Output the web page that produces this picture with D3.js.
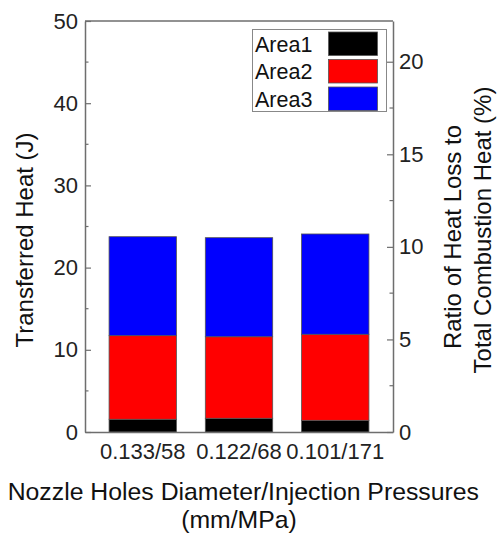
<!DOCTYPE html>
<html><head><meta charset="utf-8">
<script src="https://cdn.jsdelivr.net/npm/d3@7"></script>
<style>
body{margin:0;background:#fff;}
svg{display:block;font-family:"Liberation Sans",Arial,sans-serif;}
</style></head>
<body>
<svg id="chart" width="498" height="535"></svg>
<script>
const categories = ["0.133/58", "0.122/68", "0.101/171"];
const seriesNames = ["Area1", "Area2", "Area3"];
const area1 = [1.55, 1.67, 1.42];
const area2 = [10.17, 9.92, 10.47];
const area3 = [12.04, 12.05, 12.2];
const leftTicks = [0, 10, 20, 30, 40, 50];
const leftMinor = [5, 15, 25, 35, 45];
const rightTicks = [0, 5, 10, 15, 20];
const rightMinor = [2.5, 7.5, 12.5, 17.5];
const colors = ["#000000", "#ff0000", "#0000ff"];

const svg = d3.select("#chart");
const L = 85, R = 393, T = 21, B = 432;
const axisColor = "#6e6e6e";

const rows = categories.map((c, i) => ({cat: c, Area1: area1[i], Area2: area2[i], Area3: area3[i]}));
const stacked = d3.stack().keys(seriesNames)(rows);

const x = d3.scaleBand().domain(categories).range([L, R]).paddingInner(0.3).paddingOuter(0.25);
const y = d3.scaleLinear().domain([0, 50]).range([B, T]);
const y2 = d3.scaleLinear().domain([0, 22.2]).range([B, T]);

// bars
stacked.forEach((s, k) => {
  svg.append("g").selectAll("rect").data(s).join("rect")
    .attr("x", d => x(d.data.cat))
    .attr("width", x.bandwidth())
    .attr("y", d => y(d[1]))
    .attr("height", d => y(d[0]) - y(d[1]))
    .attr("fill", colors[k])
    .attr("stroke", "#555")
    .attr("stroke-width", 0.8);
});

// frame top
svg.append("line").attr("x1", L).attr("x2", R).attr("y1", T).attr("y2", T)
  .attr("stroke", axisColor).attr("stroke-width", 1.5);

// left axis
const gl = svg.append("g").attr("transform", `translate(${L},0)`)
  .call(d3.axisLeft(y).tickValues(leftTicks).tickSizeInner(-6).tickSizeOuter(0).tickPadding(7));
gl.selectAll(".tick line").attr("stroke", axisColor).attr("stroke-width", 1.2);
gl.select(".domain").attr("stroke", axisColor).attr("stroke-width", 1.5);
gl.selectAll("text").attr("font-size", 22).attr("fill", "#222");
svg.append("g").selectAll("line").data(leftMinor).join("line")
  .attr("x1", L).attr("x2", L + 3.5).attr("y1", d => y(d)).attr("y2", d => y(d))
  .attr("stroke", axisColor).attr("stroke-width", 1.2);

// right axis
const gr = svg.append("g").attr("transform", `translate(${R},0)`)
  .call(d3.axisRight(y2).tickValues(rightTicks).tickSizeInner(-6).tickSizeOuter(0).tickPadding(6));
gr.selectAll(".tick line").attr("stroke", axisColor).attr("stroke-width", 1.2);
gr.select(".domain").attr("stroke", axisColor).attr("stroke-width", 1.5);
gr.selectAll("text").attr("font-size", 22).attr("fill", "#222");
svg.append("g").selectAll("line").data(rightMinor).join("line")
  .attr("x1", R).attr("x2", R - 3.5).attr("y1", d => y2(d)).attr("y2", d => y2(d))
  .attr("stroke", axisColor).attr("stroke-width", 1.2);

// bottom axis
const gb = svg.append("g").attr("transform", `translate(0,${B})`)
  .call(d3.axisBottom(x).tickSize(0).tickPadding(11));
gb.select(".domain").attr("stroke", axisColor).attr("stroke-width", 1.5);
gb.selectAll("text").attr("font-size", 22).attr("fill", "#222");

// axis titles
svg.append("text").attr("transform", "translate(33,240) rotate(-90)")
  .attr("text-anchor", "middle").attr("font-size", 24).attr("fill", "#111")
  .text("Transferred Heat (J)");
svg.append("text").attr("transform", "translate(461,237) rotate(-90)")
  .attr("text-anchor", "middle").attr("font-size", 24).attr("fill", "#111")
  .text("Ratio of Heat Loss to");
svg.append("text").attr("transform", "translate(491,230) rotate(-90)")
  .attr("text-anchor", "middle").attr("font-size", 24).attr("fill", "#111")
  .text("Total Combustion Heat (%)");
svg.append("text").attr("x", 479).attr("y", 500).attr("text-anchor", "end")
  .attr("font-size", 24.8).attr("fill", "#111")
  .text("Nozzle Holes Diameter/Injection Pressures");
svg.append("text").attr("x", 239).attr("y", 528).attr("text-anchor", "middle")
  .attr("font-size", 24.8).attr("fill", "#111")
  .text("(mm/MPa)");

// legend
const lg = svg.append("g");
lg.append("rect").attr("x", 252.5).attr("y", 29.5).attr("width", 134).attr("height", 82)
  .attr("fill", "#fff").attr("stroke", "#888").attr("stroke-width", 1);
seriesNames.forEach((n, i) => {
  lg.append("rect").attr("x", 328.5).attr("y", 32 + i * 27.5).attr("width", 49).attr("height", 23.5)
    .attr("fill", colors[i]).attr("stroke", "#555").attr("stroke-width", 0.8);
  lg.append("text").attr("x", 255).attr("y", 51.5 + i * 27.5)
    .attr("font-size", 21.5).attr("fill", "#111").text(n);
});
</script>
</body></html>
